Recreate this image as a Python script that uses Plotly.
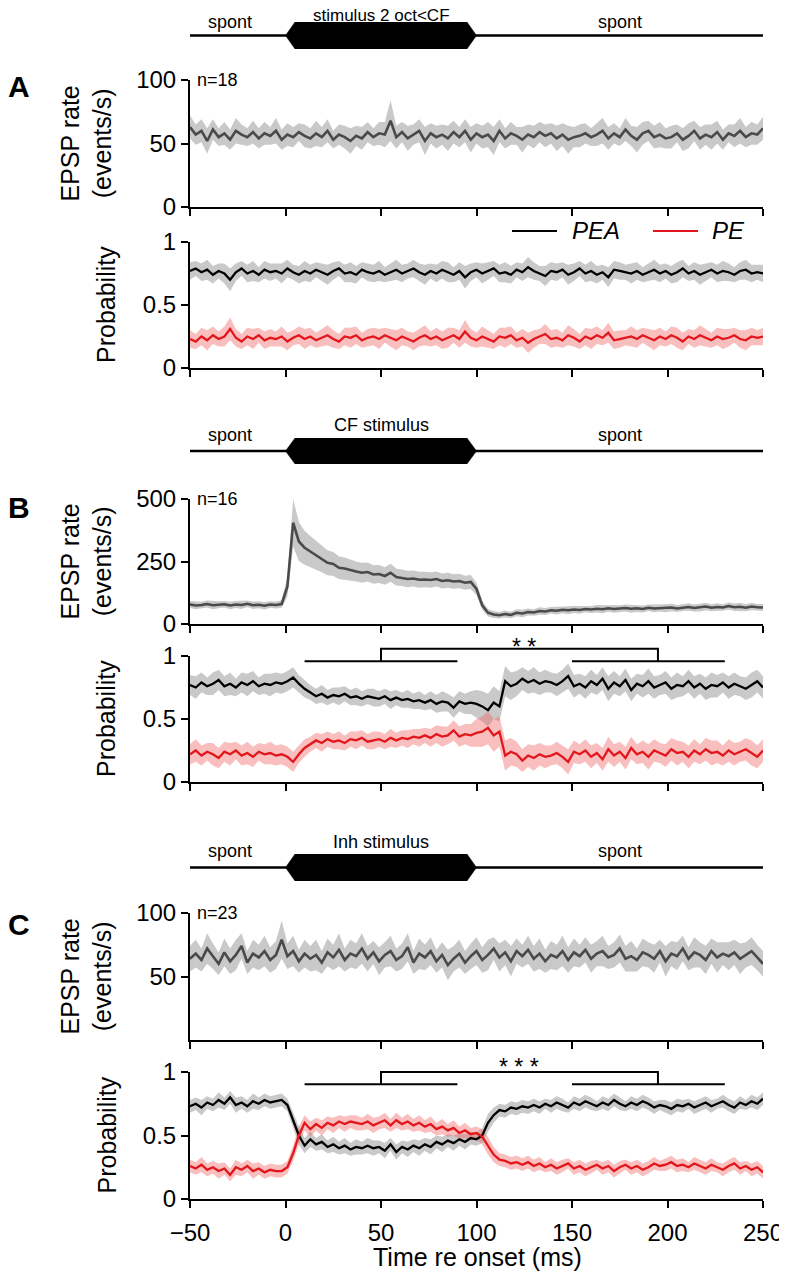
import plotly.graph_objects as go

# ---------------- data ----------------
time_ms = [-50 + 3 * i for i in range(101)]

A_rate = [63,57,60,52,61,55,58,53,60,57,55,59,54,58,56,60,53,57,55,59,
          56,54,58,55,60,53,57,55,52,56,54,59,55,58,57,68,55,59,54,57,
          60,52,58,55,57,54,59,55,60,53,58,55,57,52,60,54,58,56,53,57,
          55,59,56,58,54,57,53,55,56,58,55,57,60,54,58,55,61,56,53,58,
          60,55,57,54,55,58,53,56,60,54,57,55,59,53,58,56,60,55,58,57,62]
A_rate_sem = [9,8,9,10,8,7,9,8,10,8,7,9,8,9,7,10,8,9,8,7,
              9,8,10,8,9,7,8,9,10,8,9,8,7,9,10,16,9,8,10,8,
              9,11,8,9,8,10,9,8,9,10,8,9,10,11,9,8,9,7,10,8,
              9,8,9,8,10,9,11,8,9,8,7,9,10,9,8,7,9,8,10,9,
              8,9,10,8,9,7,9,10,8,9,8,10,9,8,7,9,10,8,9,8,9]
A_PEA = [0.77,0.79,0.76,0.78,0.74,0.77,0.75,0.70,0.76,0.79,0.75,0.77,0.74,0.78,0.76,0.77,0.75,0.79,0.76,0.74,
         0.77,0.75,0.78,0.76,0.74,0.77,0.79,0.75,0.76,0.74,0.78,0.76,0.75,0.77,0.74,0.76,0.78,0.75,0.77,0.79,
         0.76,0.74,0.77,0.75,0.78,0.76,0.74,0.77,0.72,0.76,0.78,0.75,0.77,0.79,0.75,0.76,0.74,0.78,0.76,0.80,
         0.77,0.75,0.73,0.77,0.76,0.78,0.74,0.76,0.79,0.75,0.77,0.74,0.76,0.72,0.78,0.77,0.76,0.75,0.77,0.74,
         0.76,0.78,0.75,0.77,0.74,0.76,0.79,0.75,0.77,0.74,0.76,0.78,0.75,0.77,0.76,0.74,0.77,0.78,0.75,0.76,0.75]
A_PE = [0.23,0.21,0.25,0.22,0.26,0.23,0.25,0.31,0.24,0.21,0.25,0.23,0.26,0.22,0.24,0.23,0.25,0.21,0.24,0.26,
        0.23,0.25,0.22,0.24,0.26,0.23,0.21,0.25,0.24,0.26,0.22,0.24,0.25,0.23,0.26,0.24,0.22,0.25,0.23,0.21,
        0.24,0.26,0.23,0.25,0.22,0.24,0.26,0.23,0.29,0.24,0.22,0.25,0.23,0.21,0.25,0.24,0.26,0.22,0.24,0.20,
        0.23,0.25,0.27,0.23,0.24,0.22,0.26,0.24,0.21,0.25,0.23,0.26,0.24,0.28,0.22,0.23,0.24,0.25,0.23,0.26,
        0.24,0.22,0.25,0.23,0.26,0.24,0.21,0.25,0.23,0.26,0.24,0.22,0.25,0.23,0.24,0.26,0.23,0.22,0.25,0.24,0.25]
A_prob_sem = [0.07,0.06,0.07,0.08,0.07,0.06,0.08,0.09,0.07,0.06,0.07,0.08,0.06,0.07,0.07,0.06,0.08,0.07,0.06,0.07,
              0.08,0.07,0.06,0.07,0.08,0.07,0.06,0.07,0.08,0.07,0.06,0.07,0.07,0.08,0.06,0.07,0.08,0.07,0.06,0.07,
              0.07,0.08,0.06,0.07,0.07,0.08,0.06,0.07,0.09,0.07,0.06,0.08,0.07,0.06,0.07,0.08,0.07,0.06,0.07,0.08,
              0.07,0.06,0.08,0.07,0.07,0.06,0.08,0.07,0.06,0.07,0.08,0.07,0.06,0.08,0.07,0.07,0.06,0.08,0.07,0.06,
              0.07,0.08,0.07,0.06,0.07,0.08,0.07,0.06,0.07,0.08,0.07,0.06,0.07,0.08,0.07,0.06,0.07,0.08,0.07,0.06,0.07]

B_rate = [78,74,76,80,75,77,79,74,78,76,81,75,77,73,78,76,80,
          150,405,330,305,290,275,262,245,240,225,222,215,210,205,208,198,200,192,205,188,
          185,180,182,177,178,176,180,172,175,170,172,165,168,
          140,75,45,38,35,40,36,45,42,48,46,52,50,55,53,57,55,58,56,60,
          58,61,59,63,60,62,64,61,63,60,65,62,64,63,66,62,65,68,64,66,
          70,65,68,66,72,67,69,65,70,67,66]
B_rate_sem = [14,15,13,14,16,14,13,15,14,16,13,15,14,15,13,14,15,
              40,95,78,68,62,58,55,50,48,45,44,42,40,40,38,37,36,35,36,34,
              33,33,32,32,31,31,30,30,30,29,29,28,28,
              25,18,15,14,13,14,13,14,15,14,13,15,14,13,15,14,16,14,15,13,
              14,15,16,14,15,13,14,16,15,14,13,15,14,16,15,14,13,15,14,16,
              15,14,15,13,14,15,16,14,15,13,14]
B_PEA = [0.77,0.75,0.79,0.76,0.78,0.81,0.76,0.78,0.75,0.79,0.77,0.80,0.76,0.78,0.77,0.79,0.78,
         0.80,0.83,0.78,0.74,0.71,0.68,0.70,0.67,0.69,0.68,0.70,0.67,0.68,0.66,0.68,0.67,0.66,0.68,0.65,0.67,
         0.65,0.66,0.64,0.65,0.63,0.65,0.62,0.64,0.63,0.59,0.64,0.62,0.63,
         0.62,0.60,0.57,0.63,0.60,0.80,0.76,0.78,0.82,0.79,0.81,0.78,0.80,0.79,0.77,0.80,0.84,0.76,0.78,0.75,
         0.80,0.77,0.82,0.74,0.79,0.76,0.81,0.73,0.78,0.76,0.80,0.75,0.77,0.79,0.74,0.77,0.76,0.80,0.75,0.78,
         0.74,0.77,0.76,0.79,0.75,0.78,0.76,0.74,0.77,0.80,0.75]
B_PE = [0.22,0.25,0.21,0.24,0.22,0.19,0.24,0.22,0.25,0.21,0.23,0.20,0.24,0.22,0.23,0.21,0.22,
        0.20,0.16,0.22,0.27,0.30,0.33,0.31,0.34,0.32,0.33,0.31,0.34,0.33,0.35,0.32,0.33,0.34,0.32,0.35,0.33,
        0.35,0.34,0.36,0.35,0.37,0.35,0.38,0.36,0.37,0.41,0.36,0.38,0.37,
        0.39,0.40,0.43,0.37,0.40,0.21,0.24,0.22,0.17,0.21,0.19,0.22,0.20,0.21,0.23,0.20,0.16,0.24,0.22,0.25,
        0.20,0.23,0.18,0.26,0.21,0.24,0.19,0.27,0.22,0.24,0.20,0.25,0.23,0.21,0.26,0.23,0.24,0.20,0.25,0.22,
        0.26,0.23,0.24,0.21,0.25,0.22,0.24,0.26,0.23,0.20,0.25]
B_prob_sem = [0.08,0.09,0.08,0.07,0.09,0.08,0.08,0.09,0.07,0.08,0.09,0.08,0.07,0.08,0.09,0.08,0.08,
              0.08,0.08,0.07,0.07,0.06,0.06,0.07,0.06,0.06,0.07,0.06,0.06,0.07,0.06,0.06,0.07,0.06,0.06,0.07,0.06,
              0.06,0.07,0.06,0.07,0.06,0.07,0.07,0.08,0.07,0.08,0.08,0.08,0.09,
              0.11,0.12,0.13,0.13,0.12,0.12,0.11,0.10,0.09,0.09,0.10,0.09,0.09,0.08,0.09,0.09,0.10,0.09,0.08,0.09,
              0.09,0.08,0.09,0.10,0.09,0.08,0.09,0.09,0.08,0.09,0.10,0.09,0.08,0.09,0.09,0.10,0.08,0.09,0.09,0.08,
              0.09,0.10,0.09,0.08,0.09,0.09,0.08,0.09,0.10,0.09,0.09]

C_rate = [64,68,63,72,66,60,69,62,67,74,61,68,65,70,63,67,79,
          66,70,62,68,64,67,61,69,65,71,63,68,66,72,64,69,62,67,70,63,
          66,73,61,68,65,70,62,67,59,64,68,61,66,
          70,63,67,72,65,69,62,70,66,71,64,68,62,67,65,70,63,69,66,71,
          64,68,70,65,67,72,64,66,63,69,67,64,70,62,68,66,72,64,69,67,
          63,70,65,68,66,69,64,67,70,65,60]
C_rate_sem = [10,11,9,12,10,9,11,10,12,10,9,11,10,12,10,11,15,
              10,12,9,11,10,12,9,11,10,13,9,11,10,12,10,9,11,10,12,9,
              10,11,9,12,10,11,9,10,12,10,11,9,10,
              11,10,12,9,11,10,12,10,9,11,10,12,9,11,10,12,10,11,9,10,
              11,10,12,9,10,11,10,12,9,11,10,11,9,12,10,11,10,9,12,10,
              11,10,12,9,11,10,12,10,11,10,10]
C_PEA = [0.73,0.75,0.72,0.76,0.74,0.78,0.75,0.80,0.74,0.76,0.73,0.77,0.75,0.78,0.76,0.77,0.78,
         0.74,0.62,0.50,0.42,0.47,0.43,0.45,0.41,0.43,0.40,0.42,0.39,0.41,0.40,0.42,0.40,0.41,0.38,0.43,0.37,
         0.41,0.39,0.42,0.40,0.43,0.41,0.45,0.43,0.46,0.44,0.47,0.45,0.48,
         0.47,0.50,0.60,0.66,0.70,0.69,0.72,0.71,0.73,0.72,0.74,0.72,0.75,0.73,0.76,0.74,0.72,0.76,0.74,0.77,
         0.75,0.73,0.76,0.74,0.78,0.75,0.73,0.76,0.74,0.77,0.75,0.72,0.74,0.73,0.71,0.74,0.73,0.75,0.72,0.74,
         0.76,0.73,0.75,0.77,0.74,0.72,0.76,0.74,0.77,0.75,0.79]
C_PE = [0.26,0.24,0.27,0.23,0.25,0.22,0.24,0.19,0.25,0.23,0.26,0.22,0.24,0.21,0.23,0.22,0.22,
        0.25,0.36,0.50,0.60,0.55,0.59,0.56,0.60,0.58,0.61,0.59,0.61,0.60,0.59,0.61,0.58,0.60,0.62,0.58,0.62,
        0.59,0.61,0.58,0.60,0.57,0.59,0.55,0.57,0.54,0.56,0.52,0.54,0.51,
        0.52,0.49,0.42,0.35,0.31,0.30,0.28,0.29,0.27,0.29,0.26,0.28,0.25,0.27,0.24,0.26,0.28,0.24,0.26,0.23,
        0.25,0.27,0.24,0.26,0.22,0.25,0.27,0.24,0.26,0.23,0.25,0.28,0.26,0.27,0.29,0.26,0.27,0.25,0.28,0.26,
        0.24,0.27,0.25,0.23,0.26,0.28,0.24,0.26,0.23,0.25,0.21]
C_prob_sem = [0.05,0.05,0.06,0.05,0.05,0.06,0.05,0.05,0.06,0.05,0.05,0.06,0.05,0.05,0.05,0.05,0.05,
              0.05,0.06,0.07,0.06,0.06,0.05,0.06,0.05,0.06,0.05,0.06,0.05,0.06,0.05,0.06,0.06,0.05,0.06,0.05,0.06,
              0.05,0.06,0.05,0.06,0.05,0.06,0.05,0.06,0.05,0.06,0.05,0.06,0.05,
              0.05,0.06,0.07,0.06,0.05,0.05,0.05,0.05,0.05,0.05,0.05,0.05,0.04,0.05,0.05,0.05,0.04,0.05,0.05,0.05,
              0.05,0.04,0.05,0.05,0.05,0.05,0.04,0.05,0.05,0.05,0.05,0.05,0.04,0.05,0.05,0.05,0.05,0.04,0.05,0.05,
              0.05,0.05,0.04,0.05,0.05,0.05,0.05,0.04,0.05,0.05,0.05]

# stimulus timing (ms) and significance comparison windows (ms)
stim_on, stim_off, stim_ramp = 0, 100, 5
stim_labels = ["stimulus 2 oct<CF", "CF stimulus", "Inh stimulus"]
spont_label_ms = [-29, 175]
win_stim = [10, 90]
win_spont = [150, 230]
win_join = [50, 195]
B_bracket_levels = [0.958, 1.058]
C_bracket_levels = [0.903, 1.0]
n_labels = ["n=18", "n=16", "n=23"]

for arr in [A_rate, A_rate_sem, A_PEA, A_PE, A_prob_sem, B_rate, B_rate_sem, B_PEA, B_PE,
            B_prob_sem, C_rate, C_rate_sem, C_PEA, C_PE, C_prob_sem]:
    assert len(arr) == len(time_ms), len(arr)

# ---------------- layout helpers ----------------
# the page body adds an 8 px margin on every side, so the figure is drawn
# smaller and all page-pixel positions below are shifted by that offset
PAGE_OFF = 8
W, H = 787 - PAGE_OFF, 1280 - 2 * PAGE_OFF
FONT = "Liberation Sans, Arial, Helvetica, sans-serif"
X_RANGE = [-50, 250]
X_TICKS = [-50, 0, 50, 100, 150, 200, 250]


def px(p):
    return (p - PAGE_OFF) / W


def py(p):
    return 1 - (p - PAGE_OFF) / H


def axid(i):
    return "" if i == 1 else str(i)


XDOM = [px(190), px(763)]

GRAY_BAND = "#c9c9c9"
PINK_BAND = "rgba(240,100,100,0.42)"
RED = "#e3161c"

panels = [
    dict(letter="A", rate=A_rate, rate_sem=A_rate_sem, pea=A_PEA, pe=A_PE, psem=A_prob_sem,
         rrange=[0, 100], rticks=[0, 50, 100], stim_px=(22, 49), rate_px=(80, 207),
         prob_px=(242, 368), letter_y=86, brackets=None, stars=None, lab_off=(20, 14), lab_size=17),
    dict(letter="B", rate=B_rate, rate_sem=B_rate_sem, pea=B_PEA, pe=B_PE, psem=B_prob_sem,
         rrange=[0, 500], rticks=[0, 250, 500], stim_px=(438, 464), rate_px=(499, 624),
         prob_px=(656, 782), letter_y=507, brackets=B_bracket_levels, stars=("* *", 125, 1.07),
         lab_off=(26, 16), lab_size=18),
    dict(letter="C", rate=C_rate, rate_sem=C_rate_sem, pea=C_PEA, pe=C_PE, psem=C_prob_sem,
         rrange=[0, 100], rticks=[50, 100], stim_px=(854, 881), rate_px=(913, 1040),
         prob_px=(1072, 1199), letter_y=924, brackets=C_bracket_levels, stars=("* * *", 122, 1.04),
         lab_off=(26, 16), lab_size=18),
]

fig = go.Figure()
layout = dict(
    width=W, height=H, margin=dict(l=0, r=0, t=0, b=0, autoexpand=False),
    paper_bgcolor="white", plot_bgcolor="white", showlegend=False,
    font=dict(family=FONT, color="black"),
)
annotations = []
shapes = []


def band(x, m, s):
    up = [a + b for a, b in zip(m, s)]
    lo = [a - b for a, b in zip(m, s)]
    return x + x[::-1], up + lo[::-1]


def xfrac(v):
    return (v - X_RANGE[0]) / (X_RANGE[1] - X_RANGE[0])


for k, p in enumerate(panels):
    ir, ip, is_ = 3 * k + 1, 3 * k + 2, 3 * k + 3
    xr, yr = "x" + axid(ir), "y" + axid(ir)
    xp, yp = "x" + axid(ip), "y" + axid(ip)
    xs, ys = "x" + axid(is_), "y" + axid(is_)

    # rate
    bx, by = band(time_ms, p["rate"], p["rate_sem"])
    fig.add_trace(go.Scatter(x=bx, y=by, fill="toself", fillcolor=GRAY_BAND, line=dict(width=0),
                             mode="lines", hoverinfo="skip", xaxis=xr, yaxis=yr))
    fig.add_trace(go.Scatter(x=time_ms, y=p["rate"], mode="lines", line=dict(color="#4a4a4a", width=2.6),
                             name="EPSP rate", xaxis=xr, yaxis=yr))
    # probabilities
    bx, by = band(time_ms, p["pea"], p["psem"])
    fig.add_trace(go.Scatter(x=bx, y=by, fill="toself", fillcolor=GRAY_BAND, line=dict(width=0),
                             mode="lines", hoverinfo="skip", xaxis=xp, yaxis=yp))
    bx, by = band(time_ms, p["pe"], p["psem"])
    fig.add_trace(go.Scatter(x=bx, y=by, fill="toself", fillcolor=PINK_BAND, line=dict(width=0),
                             mode="lines", hoverinfo="skip", xaxis=xp, yaxis=yp))
    fig.add_trace(go.Scatter(x=time_ms, y=p["pea"], mode="lines", line=dict(color="black", width=2.3),
                             name="PEA", xaxis=xp, yaxis=yp))
    fig.add_trace(go.Scatter(x=time_ms, y=p["pe"], mode="lines", line=dict(color=RED, width=2.3),
                             name="PE", xaxis=xp, yaxis=yp))
    # stimulus bar
    fig.add_trace(go.Scatter(x=X_RANGE, y=[0, 0], mode="lines", line=dict(color="black", width=2.4),
                             hoverinfo="skip", xaxis=xs, yaxis=ys))
    hx = [stim_on, stim_on + stim_ramp, stim_off - stim_ramp, stim_off, stim_off - stim_ramp,
          stim_on + stim_ramp, stim_on]
    hy = [0, 1, 1, 0, -1, -1, 0]
    fig.add_trace(go.Scatter(x=hx, y=hy, fill="toself", fillcolor="black", mode="lines",
                             line=dict(color="black", width=0.5), hoverinfo="skip", xaxis=xs, yaxis=ys))

    bottom = (k == 2)
    base_x = dict(range=X_RANGE, domain=XDOM, showgrid=False, zeroline=False, fixedrange=True)
    for idx in (ir, ip):
        show_lbl = bottom and idx == ip
        layout["xaxis" + axid(idx)] = dict(
            base_x, anchor="y" + axid(idx), tickmode="array", tickvals=X_TICKS,
            ticks="outside", ticklen=7, tickwidth=2, showline=True, linewidth=2, linecolor="black",
            tickcolor="black", showticklabels=show_lbl, automargin=False,
            tickfont=dict(size=24, family=FONT), ticklabelstandoff=4)
    layout["xaxis" + axid(is_)] = dict(base_x, anchor=ys, visible=False)

    yax = dict(showgrid=False, zeroline=False, fixedrange=True, ticks="outside", ticklen=7,
               tickwidth=2, showline=True, linewidth=2, linecolor="black", tickcolor="black",
               automargin=False, tickfont=dict(size=24, family=FONT))
    layout["yaxis" + axid(ir)] = dict(yax, anchor=xr, range=p["rrange"], tickmode="array",
                                      tickvals=p["rticks"], ticktext=[str(v) for v in p["rticks"]],
                                      domain=[py(p["rate_px"][1]), py(p["rate_px"][0])])
    layout["yaxis" + axid(ip)] = dict(yax, anchor=xp, range=[0, 1], tickmode="array",
                                      tickvals=[0, 0.5, 1], ticktext=["0", "0.5", "1"],
                                      domain=[py(p["prob_px"][1]), py(p["prob_px"][0])])
    layout["yaxis" + axid(is_)] = dict(anchor=xs, range=[-1, 1], visible=False, fixedrange=True,
                                       domain=[py(p["stim_px"][1]), py(p["stim_px"][0])])

    # stimulus labels
    line_px = (p["stim_px"][0] + p["stim_px"][1]) / 2
    off_stim, off_spont = p["lab_off"]
    annotations.append(dict(text=stim_labels[k], xref=xs, x=(stim_on + stim_off) / 2,
                            yref="paper", y=py(line_px - off_stim), showarrow=False,
                            font=dict(size=p["lab_size"], family=FONT), xanchor="center",
                            yanchor="middle"))
    for sx in spont_label_ms:
        annotations.append(dict(text="spont", xref=xs, x=sx, yref="paper", y=py(line_px - off_spont),
                                showarrow=False, font=dict(size=18, family=FONT),
                                xanchor="center", yanchor="middle"))
    # panel letter
    annotations.append(dict(text=f"<b>{p['letter']}</b>", xref="paper", x=px(19), yref="paper",
                            y=py(p["letter_y"]), showarrow=False, font=dict(size=30, family=FONT),
                            xanchor="center", yanchor="middle"))
    # n label
    annotations.append(dict(text=n_labels[k], xref=xr + " domain", x=0.008, yref=yr + " domain",
                            y=1.0, showarrow=False, font=dict(size=18, family=FONT),
                            xanchor="left", yanchor="middle"))
    # y titles
    rc = (p["rate_px"][0] + p["rate_px"][1]) / 2
    pc = (p["prob_px"][0] + p["prob_px"][1]) / 2
    annotations.append(dict(text="EPSP rate<br>(events/s)", xref="paper", x=px(86), yref="paper",
                            y=py(rc), showarrow=False, textangle=-90,
                            font=dict(size=25, family=FONT), xanchor="center", yanchor="middle"))
    annotations.append(dict(text="Probability", xref="paper", x=px(106), yref="paper",
                            y=py(pc), showarrow=False, textangle=-90,
                            font=dict(size=25, family=FONT), xanchor="center", yanchor="middle"))

    # significance brackets
    if p["brackets"] is not None:
        lo, hi = p["brackets"]
        xd, yd = xp + " domain", yp + " domain"
        for w in (win_stim, win_spont):
            shapes.append(dict(type="line", xref=xd, yref=yd, x0=xfrac(w[0]), x1=xfrac(w[1]),
                               y0=lo, y1=lo, line=dict(color="black", width=2)))
        path = (f"M {xfrac(win_join[0])},{lo} L {xfrac(win_join[0])},{hi} "
                f"L {xfrac(win_join[1])},{hi} L {xfrac(win_join[1])},{lo}")
        shapes.append(dict(type="path", xref=xd, yref=yd, path=path,
                           line=dict(color="black", width=2)))
        st_text, st_x, st_y = p["stars"]
        annotations.append(dict(text=st_text, xref=xd, x=xfrac(st_x), yref=yd, y=st_y,
                                showarrow=False, font=dict(size=23, family=FONT),
                                xanchor="center", yanchor="middle"))

# x-axis title (bottom)
annotations.append(dict(text="Time re onset (ms)", xref="paper", x=px(477), yref="paper",
                        y=py(1257), showarrow=False, font=dict(size=25, family=FONT),
                        xanchor="center", yanchor="middle"))

# legend (panel A probability)
leg_y = py(231)
shapes.append(dict(type="line", xref="paper", yref="paper", x0=px(512), x1=px(557), y0=leg_y,
                   y1=leg_y, line=dict(color="black", width=2.2)))
shapes.append(dict(type="line", xref="paper", yref="paper", x0=px(653), x1=px(698), y0=leg_y,
                   y1=leg_y, line=dict(color=RED, width=2.2)))
annotations.append(dict(text="<i>PEA</i>", xref="paper", x=px(570), yref="paper", y=leg_y,
                        showarrow=False, font=dict(size=24, family=FONT), xanchor="left",
                        yanchor="middle"))
annotations.append(dict(text="<i>PE</i>", xref="paper", x=px(710), yref="paper", y=leg_y,
                        showarrow=False, font=dict(size=24, family=FONT), xanchor="left",
                        yanchor="middle"))

layout["annotations"] = annotations
layout["shapes"] = shapes
fig.update_layout(**layout)
fig.write_html("out.html")
